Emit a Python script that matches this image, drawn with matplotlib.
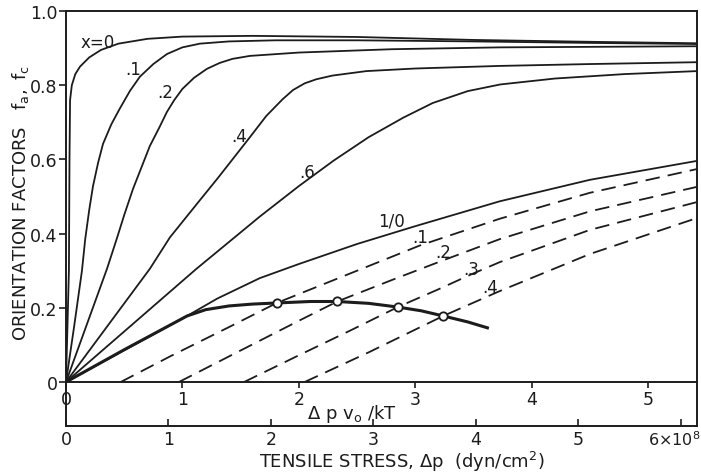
import matplotlib
matplotlib.use("Agg")
from matplotlib import pyplot as plt

# solid curves: reduced stress (dp*v0/kT) vs orientation factor, one per x
x0_dp = [0, 0.025, 0.03, 0.035, 0.05, 0.08, 0.12, 0.2, 0.3, 0.45, 0.7, 1.0, 1.6, 2.5, 3.5, 4.5, 5.42]
x0_f = [0, 0.3, 0.6, 0.76, 0.80, 0.83, 0.85, 0.875, 0.895, 0.912, 0.925, 0.931, 0.933, 0.93, 0.922, 0.917, 0.913]

x1_dp = [0, 0.07, 0.137, 0.165, 0.2, 0.232, 0.275, 0.318, 0.39, 0.464, 0.55, 0.635, 0.75, 0.867, 1.0,
         1.15, 1.4, 1.8, 2.5, 3.5, 4.5, 5.42]
x1_f = [0, 0.15, 0.30, 0.385, 0.465, 0.528, 0.59, 0.642, 0.695, 0.738, 0.785, 0.823, 0.857, 0.884, 0.902,
        0.912, 0.918, 0.921, 0.921, 0.918, 0.914, 0.911]

x2_dp = [0, 0.352, 0.44, 0.5, 0.575, 0.65, 0.72, 0.8, 0.867, 0.93, 1.0, 1.1, 1.21, 1.32, 1.43, 1.58,
         2.0, 2.8, 3.73, 5.42]
x2_f = [0, 0.305, 0.39, 0.45, 0.52, 0.58, 0.636, 0.685, 0.728, 0.76, 0.79, 0.82, 0.844, 0.86, 0.871, 0.879,
        0.888, 0.897, 0.902, 0.905]

x4_dp = [0, 0.72, 0.893, 1.15, 1.3, 1.43, 1.58, 1.72, 1.86, 1.95, 2.05, 2.15, 2.29, 2.58, 3.0, 3.73, 4.5, 5.42]
x4_f = [0, 0.305, 0.39, 0.49, 0.548, 0.60, 0.66, 0.717, 0.762, 0.787, 0.805, 0.816, 0.826, 0.838, 0.845, 0.852,
        0.857, 0.862]

x6_dp = [0, 1.12, 1.41, 1.665, 2.0, 2.3, 2.6, 2.9, 3.15, 3.45, 3.73, 4.2, 4.8, 5.42]
x6_f = [0, 0.305, 0.38, 0.446, 0.528, 0.597, 0.66, 0.713, 0.752, 0.784, 0.802, 0.818, 0.83, 0.838]

x10_dp = [0, 1.04, 1.3, 1.665, 2.0, 2.5, 3.0, 3.725, 4.5, 5.42]
x10_f = [0, 0.178, 0.225, 0.28, 0.318, 0.372, 0.42, 0.487, 0.545, 0.596]

# thick curve through the open circles
locus_dp = [0, 0.5, 1.04, 1.2, 1.4, 1.6, 1.81, 2.1, 2.33, 2.6, 2.85, 3.05, 3.24, 3.45, 3.62]
locus_f = [0, 0.087, 0.178, 0.195, 0.205, 0.21, 0.213, 0.217, 0.217, 0.212, 0.202, 0.192, 0.178, 0.162, 0.146]
circle_dp = [1.81, 2.33, 2.85, 3.24]
circle_f = [0.213, 0.217, 0.202, 0.178]

# dashed curves
d1_dp = [0.47, 0.9, 1.4, 1.81, 2.0, 2.5, 3.04, 3.725, 4.5, 5.42]
d1_f = [0, 0.07, 0.148, 0.213, 0.237, 0.3, 0.368, 0.44, 0.51, 0.574]
d2_dp = [0.97, 1.5, 2.0, 2.33, 2.8, 3.24, 3.725, 4.5, 5.42]
d2_f = [0, 0.085, 0.165, 0.217, 0.275, 0.328, 0.385, 0.46, 0.526]
d3_dp = [1.53, 2.0, 2.45, 2.85, 3.2, 3.48, 3.725, 4.5, 5.42]
d3_f = [0, 0.072, 0.14, 0.202, 0.25, 0.29, 0.323, 0.41, 0.485]
d4_dp = [2.05, 2.6, 3.24, 3.725, 4.5, 5.42]
d4_f = [0, 0.08, 0.178, 0.245, 0.345, 0.442]

solid_labels = ["x=0", ".1", ".2", ".4", ".6", "1/0"]
solid_label_pos = [(0.27, 0.916), (0.575, 0.844), (0.85, 0.782), (1.49, 0.663), (2.07, 0.566), (2.80, 0.434)]
dashed_labels = [".1", ".2", ".3", ".4"]
dashed_label_pos = [(3.04, 0.391), (3.24, 0.35), (3.48, 0.305), (3.64, 0.256)]

dp_ticks = [0, 1, 2, 3, 4, 5]
stress_ticks = [0, 1, 2, 3, 4, 5, 6]
stress_tick_labels = ["0", "1", "2", "3", "4", "5", ""]
stress_last_label = "6×10$^8$"
f_ticks = [0, 0.2, 0.4, 0.6, 0.8, 1.0]
f_tick_labels = ["0", "0.2", "0.4", "0.6", "0.8", "1.0"]

DP_MAX = 5.42
STRESS_MAX = 6.16
INK = "#1c1c1c"

W, H = 701, 477


def main():
    plt.rcParams["font.family"] = "DejaVu Sans"
    fig = plt.figure(figsize=(W / 100, H / 100), dpi=100)
    ax = fig.add_axes([66 / W, 94 / H, 631 / W, 371 / H])
    ax_p = fig.add_axes([66 / W, 50 / H, 631 / W, 44 / H])

    for dp, f in [(x0_dp, x0_f), (x1_dp, x1_f), (x2_dp, x2_f), (x4_dp, x4_f), (x6_dp, x6_f), (x10_dp, x10_f)]:
        ax.plot(dp, f, color=INK, lw=1.3, solid_capstyle="round", solid_joinstyle="round")
    ax.plot(locus_dp, locus_f, color=INK, lw=2.2, solid_joinstyle="round")
    for dp, f in [(d1_dp, d1_f), (d2_dp, d2_f), (d3_dp, d3_f), (d4_dp, d4_f)]:
        ax.plot(dp, f, color=INK, lw=1.3, dashes=(8, 4.5))
    ax.plot(circle_dp, circle_f, "o", ms=6, mfc="white", mec=INK, mew=1.3, zorder=5)

    for text, (x, y) in zip(solid_labels, solid_label_pos):
        ax.text(x, y, text, fontsize=12, ha="center", va="center", color=INK)
    for text, (x, y) in zip(dashed_labels, dashed_label_pos):
        ax.text(x, y, text, fontsize=12, ha="center", va="center", color=INK)

    ax.set_xlim(0, DP_MAX)
    ax.set_ylim(0, 1.0)
    ax.set_xticks(dp_ticks)
    ax.set_xticklabels([str(t) for t in dp_ticks])
    ax.set_yticks(f_ticks)
    ax.set_yticklabels(f_tick_labels)
    ax.tick_params(axis="x", direction="out", length=4, width=1.2, pad=2, labelsize=12.5, colors=INK)
    ax.tick_params(axis="y", direction="out", length=5, width=1.2, pad=1, labelsize=12.5, colors=INK)
    for s in ax.spines.values():
        s.set_linewidth(1.4)
        s.set_color(INK)

    ax_p.set_xlim(0, STRESS_MAX)
    ax_p.set_ylim(0, 1)
    ax_p.set_yticks([])
    ax_p.set_xticks(stress_ticks)
    ax_p.set_xticklabels(stress_tick_labels)
    ax_p.tick_params(axis="x", direction="in", length=5, width=1.2, pad=3, labelsize=12.5, colors=INK)
    ax_p.spines["top"].set_visible(False)
    for s in ["left", "right", "bottom"]:
        ax_p.spines[s].set_linewidth(1.4)
        ax_p.spines[s].set_color(INK)
    ax_p.patch.set_alpha(0)

    fig.text(700 / W, 1 - 440 / H, stress_last_label, fontsize=11.5, ha="right", va="center", color=INK)
    fig.text(352 / W, 1 - 414 / H, r"$\mathregular{\Delta\ p\ v_o\ /kT}$", fontsize=13,
             ha="center", va="center", color=INK)
    fig.text(402 / W, 1 - 462 / H, "TENSILE STRESS, Δp  (dyn/cm$^2$)", fontsize=13,
             ha="center", va="center", color=INK)
    fig.text(21 / W, 1 - 203 / H, r"ORIENTATION FACTORS   $\mathregular{f_a ,\ f_c}$", fontsize=13,
             ha="center", va="center", rotation=90, color=INK)

    fig.savefig("out.png", dpi=100, facecolor="white")


if __name__ == "__main__":
    main()
